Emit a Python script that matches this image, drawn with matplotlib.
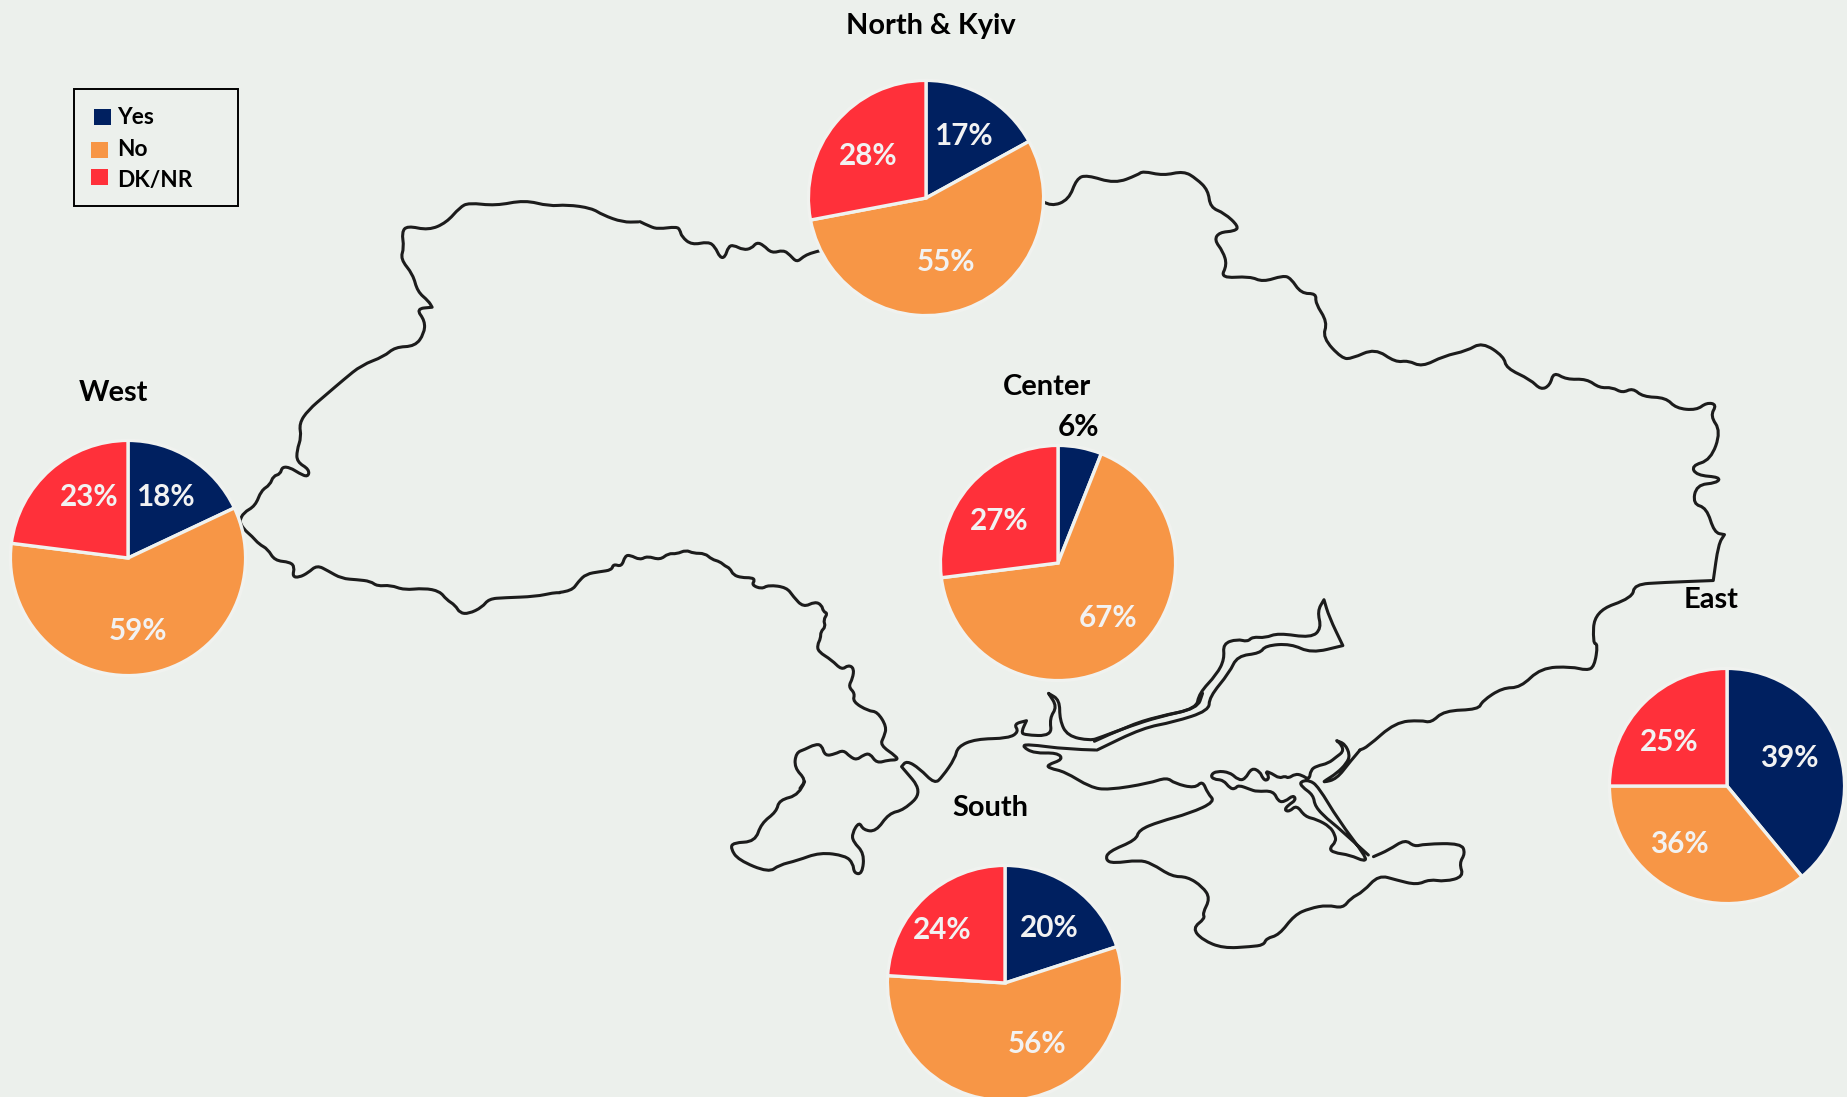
import matplotlib
matplotlib.use('Agg')
import matplotlib.pyplot as plt
from matplotlib.patches import PathPatch, Rectangle
from matplotlib.path import Path

W, H = 1847, 1097
BG = '#ECF0EC'
SHRINK = 1847 / 1568

regions = ['West', 'North & Kyiv', 'Center', 'South', 'East']
yes = [18, 17, 6, 20, 39]
no = [59, 55, 67, 56, 36]
dk = [23, 28, 27, 24, 25]
answers = ['Yes', 'No', 'DK/NR']
colors = ['#002060', '#F79646', '#FF303A']

# pie centres, title and label anchors, in reference pixels
centers = [(128, 558), (926, 198), (1058, 563), (1005, 983), (1727, 786)]
radius = 117.6
title_pos = [(96, 332), (790, 20), (889, 327), (841, 684), (1453, 508)]  # shrunk px
yes_pos = [(140, 420), (818, 114), (916, 361), (891, 786), (1519, 642)]
no_pos = [(117, 534), (803, 221), (941, 523), (880, 885), (1426, 715)]
dk_pos = [(76, 420), (737, 131), (848, 441), (800, 788), (1417, 628)]

west_north = [(537,1205),(537,1205),(545,1183),(572,1165),(585,1125),(605,1110),(612,1087),(628,1082),(632,1063),(650,1065),(670,1080),(690,1090),(693,1070),(665,1050),(665,1020),(675,985),(670,950),(690,915),(730,875),(770,835),(810,797),(860,775),(885,750),(930,748),(950,715),(952,682),(932,650),(968,646),(968,646),(960,630),(935,605),(925,560),(897,520),(905,490),(900,450),(912,433),(960,445),(1000,425),(1030,385),(1050,373),(1110,381),(1175,366),(1230,382),(1270,378),(1325,387),(1350,405),(1395,424),(1430,423)]
north = [(0,155),(30,170),(55,177),(110,170),(120,180),(125,200),(155,225),(205,215),(225,230),(240,263),(255,262),(265,230),(280,225),(310,240),(335,235),(350,217),(370,225),(395,250),(430,240),(450,255),(470,277),(490,260),(510,250),(548,240)]
east = [(85,135),(100,148),(135,130),(150,75),(170,65),(225,88),(270,65),(280,55),(320,67),(360,55),(385,75),(408,105),(412,150),(440,165),(468,200),(460,212),(430,215),(420,235),(437,265),(445,300),(432,335),(490,330),(515,345),(555,328),(570,335),(590,375),(620,375),(618,400),(642,450),(632,490),(670,545),(690,545),(735,518),(775,555),(800,550),(827,567),(870,538),(915,525),(945,502),(988,540),(992,570),(1040,600),(1060,627),(1078,615),(1085,580),(1110,600),(1150,598),(1175,622),(1200,620),(1220,635),(1240,622),(1260,645),(1305,647),(1325,675),(1365,680),(1385,660),(1405,665),(1392,695),(1413,735),(1393,810),(1355,825),(1365,850),(1412,855),(1405,870),(1365,875),(1358,925),(1385,935),(1400,1000),(1420,1005),(1420,1005),(1408,1030),(1398,1125),(1398,1125),(1300,1130),(1243,1135),(1240,1170),(1165,1205),(1162,1290),(1172,1290),(1165,1350),(1150,1360),(1120,1350),(1060,1353),(1020,1405),(985,1405),(945,1440),(938,1462),(870,1465),(845,1497),(825,1490),(775,1495),(720,1560),(705,1568)]
sivash_top = [(510,90),(480,125),(440,177),(400,187),(405,182),(440,160),(470,130),(480,105),(465,72),(440,62),(440,62),(455,75),(460,95),(440,110),(415,130),(380,138),(362,150),(358,180),(335,165),(315,162),(295,175),(285,168),(268,175),(245,160),(225,153),(238,170),(230,183),(218,175),(210,155),(185,143),(165,178),(145,180),(120,157),(80,153),(62,165),(70,178),(100,180),(120,205),(135,207),(145,195),(180,208),(200,215),(250,212),(265,245),(285,245),(310,225),(318,240),(295,255),(283,270),(298,275),(320,255),(345,290),(380,298),(420,320),(435,345),(438,365),(418,385),(430,398),(480,405),(525,425),(528,410),(445,300),(385,200),(358,180),(330,185),(335,200),(370,225),(375,260),(415,300),(430,310),(535,405)]
south_west = [(537,1205),(537,1205),(545,1225),(565,1245),(580,1265),(600,1278),(615,1308),(650,1312),(660,1325),(655,1350),(670,1352),(690,1340),(710,1320),(735,1335),(765,1355),(800,1358),(830,1362),(845,1375),(875,1372),(905,1385),(950,1380),(985,1388),(1000,1410),(1020,1425),(1030,1445),(1050,1447),(1080,1430),(1095,1408),(1130,1405),(1200,1402),(1240,1392),(1254,1392)]
moldova = [(0,187),(35,183),(55,155),(78,132),(120,125),(155,120),(160,102),(185,110),(195,78),(210,75),(240,90),(262,78),(300,90),(325,70),(350,72),(378,60),(400,70),(435,70),(455,88),(480,95),(495,108),(510,115),(520,135),(545,143),(575,143),(585,150),(575,165),(605,177),(625,165),(680,172),(700,200),(730,232),(765,215),(785,225),(790,245),(803,250),(790,270),(797,290),(782,305),(782,325),(772,345),(775,365),(815,390),(845,420),(865,405),(882,415),(878,445),(865,470),(885,490),(878,515),(925,543),(952,545),(980,590),(972,620),(960,645),(1010,680),(1012,690),(985,690),(950,700),(930,670),(910,675),(890,690),(870,680),(850,660),(825,672),(795,678),(785,645),(765,643),(735,658),(708,668),(703,713),(738,750),(720,775)]
bessarabia = [(205,395),(195,435),(155,450),(150,485),(120,520),(108,575),(65,578),(60,595),(75,630),(135,668),(155,645),(190,632),(235,607),(285,617),(300,640),(302,670),(318,672),(322,610),(300,575),(298,550),(312,515),(320,540),(345,545),(370,490),(400,480),(437,425),(395,350),(395,350),(405,332),(430,355),(460,402),(475,380),(500,325),(505,290),(540,267),(605,265),(625,245),(615,222),(640,212),(640,212),(630,245),(635,255),(690,258),(685,205),(700,170),(683,130),(683,130),(705,150),(705,210),(720,258),(765,272),(785,262),(840,230),(900,200),(975,175),(985,130)]
river = [(185,1545),(250,1505),(310,1480),(385,1460),(390,1420),(425,1370),(440,1330),(437,1290),(465,1278),(485,1285),(495,1272),(520,1275),(545,1262),(610,1275),(630,1250),(622,1205),(635,1175),(635,1175),(645,1220),(672,1295),(672,1295),(610,1315),(570,1290),(520,1295),(510,1315),(465,1322),(450,1365),(410,1430),(410,1465),(340,1495),(280,1510),(190,1568)]
crimea = [(775,300),(720,298),(640,282),(632,290),(655,310),(700,308),(712,328),(680,345),(685,355),(715,365),(765,412),(800,420),(880,400),(915,382),(930,400),(970,415),(985,392),(995,430),(1010,455),(960,490),(900,515),(860,540),(855,570),(800,605),(795,630),(810,640),(860,630),(885,640),(925,680),(955,680),(985,710),(1000,745),(985,790),(990,805),(965,835),(985,870),(1025,895),(1080,890),(1105,885),(1110,865),(1135,855),(1165,795),(1195,775),(1230,765),(1260,775),(1275,745),(1300,725),(1330,675),(1365,690),(1405,705),(1430,688),(1460,695),(1497,680),(1488,640),(1500,610),(1492,580),(1420,582),(1400,590),(1382,568),(1350,600),(1320,620)]

# (points, crop left, crop top, x scale, y scale)
traces = [
    (west_north, 0, 60, 2.24, 2.613),
    (north, 640, 170, 3, 3),
    (east, 1000, 150, 1.96, 2.613),
    (sivash_top, 1190, 720, 3, 3),
    (south_west, 0, 60, 2.24, 2.613),
    (moldova, 560, 530, 3, 3),
    (bessarabia, 700, 650, 1.96, 3),
    (river, 1000, 150, 1.96, 2.613),
    (crimea, 700, 650, 1.96, 3),
]


def smooth_path(xs, ys):
    # quadratic curves through the midpoints, keeps the end points
    verts = [(xs[0], ys[0])]
    codes = [Path.MOVETO]
    for k in range(1, len(xs) - 1):
        verts += [(xs[k], ys[k]), ((xs[k] + xs[k + 1]) / 2, (ys[k] + ys[k + 1]) / 2)]
        codes += [Path.CURVE3, Path.CURVE3]
    verts.append((xs[-1], ys[-1]))
    codes.append(Path.LINETO)
    return Path(verts, codes)


plt.rcParams['font.family'] = ['Lato', 'DejaVu Sans']
fig = plt.figure(figsize=(W / 100, H / 100), dpi=100, facecolor=BG)
ax = fig.add_axes([0, 0, 1, 1], facecolor=BG)

for pts, x0, y0, sx, sy in traces:
    xs = [x0 + p[0] / sx for p in pts]
    ys = [H - (y0 + p[1] / sy) for p in pts]
    ax.add_patch(PathPatch(smooth_path(xs, ys), fill=False, edgecolor='#1c1c1c', lw=2.2,
                           joinstyle='round', capstyle='round', zorder=1))

for i in range(len(regions)):
    cx, cy = centers[i]
    ax.pie([yes[i], no[i], dk[i]], colors=colors, startangle=90, counterclock=False,
           center=(cx, H - cy), radius=radius,
           wedgeprops={'edgecolor': '#F0F2EF', 'linewidth': 2.4, 'zorder': 2})
    ax.text(title_pos[i][0] * SHRINK, H - title_pos[i][1] * SHRINK - 2, regions[i],
            fontsize=20.9, fontweight='bold', color='black', ha='center', va='center', zorder=4)
    for val, pos, col in [(yes[i], yes_pos[i], 'black' if yes[i] < 10 else '#F2F2F2'),
                          (no[i], no_pos[i], '#F2F2F2'), (dk[i], dk_pos[i], '#F2F2F2')]:
        ax.text(pos[0] * SHRINK, H - pos[1] * SHRINK - 2, f'{val}%', fontsize=21.3, fontweight='bold',
                color=col, ha='center', va='center', zorder=4)

# legend box, the swatches are not quite aligned in the original
ax.add_patch(Rectangle((74, H - 206), 164, 117, fill=False, edgecolor='black', lw=1.4, zorder=3))
swatch_x = [94, 91, 91]
swatch_y = [109, 142, 169]
label_y = [118, 150, 181]
for i in range(3):
    ax.add_patch(Rectangle((swatch_x[i], H - swatch_y[i] - 16), 17, 16, facecolor=colors[i], zorder=3))
    ax.text(117, H - label_y[i], answers[i], fontsize=16.3, fontweight='bold', color='black',
            ha='left', va='center', zorder=4)

ax.set_xlim(0, W)
ax.set_ylim(0, H)
ax.set_aspect('auto')
ax.axis('off')
fig.savefig('out.png', dpi=100, facecolor=BG)
